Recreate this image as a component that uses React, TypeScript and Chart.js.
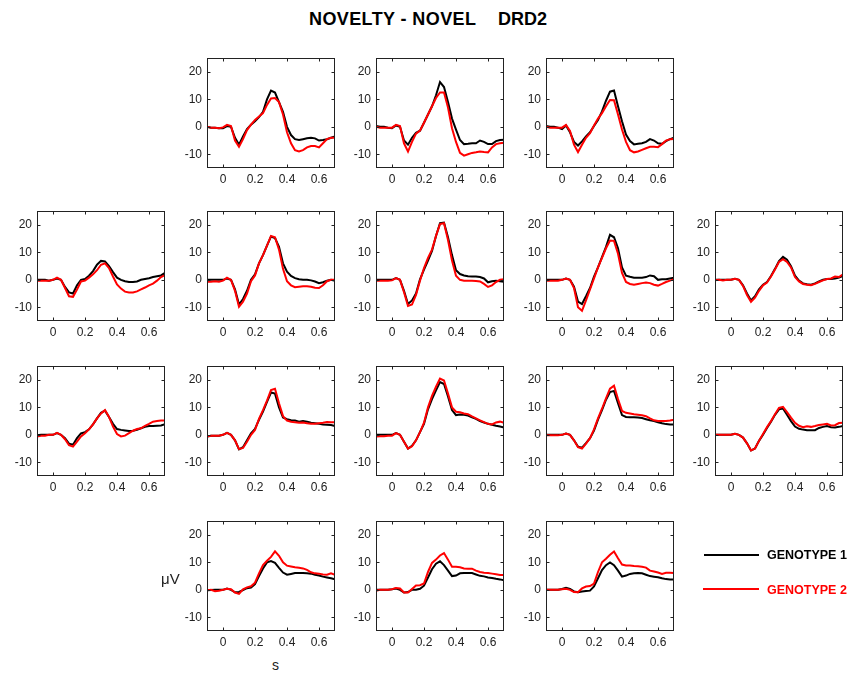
import React, { useEffect, useRef } from 'react';
import { Chart, registerables } from 'chart.js';

Chart.register(...registerables);

// ---------- data ----------
const TIME = [-0.1, -0.075, -0.05, -0.025, 0, 0.025, 0.05, 0.075, 0.1, 0.125, 0.15, 0.175, 0.2, 0.225, 0.25, 0.275, 0.3, 0.325, 0.35, 0.375, 0.4, 0.425, 0.45, 0.475, 0.5, 0.525, 0.55, 0.575, 0.6, 0.625, 0.65, 0.675, 0.7];
const X_TICKS = [0, 0.2, 0.4, 0.6];
const Y_TICKS = [-10, 0, 10, 20];
const SERIES_NAMES = ['GENOTYPE 1', 'GENOTYPE 2'];
const TITLE_LEFT = 'NOVELTY - NOVEL';
const TITLE_RIGHT = 'DRD2';
const Y_LABEL = 'μV';
const X_LABEL = 's';

// row 0
const R0C1_G1 = [0, -0.3, -0.3, -0.5, -0.5, 0.3, 0, -4, -6.5, -3.5, -0.8, 0.8, 2, 3.5, 5.5, 10, 13.2, 12.5, 9, 5.5, 0, -3, -4.5, -4.8, -4.5, -4.2, -4, -4.2, -5, -4.8, -4.5, -4, -3.5];
const R0C1_G2 = [0, -0.3, -0.3, -0.5, -0.2, 0.7, 0.3, -5, -7.3, -4.5, -1.2, 0.8, 2.5, 3.8, 5, 8, 10.3, 10.5, 9, 4.5, -2, -6, -8.5, -9, -8.5, -7.5, -7, -7, -7.5, -6, -4.5, -4, -4];
const R0C2_G1 = [0.3, 0, 0, -0.3, -0.5, 0.5, 0, -5, -6.5, -4, -2.2, -1.4, 1.5, 4.5, 7.5, 11.5, 16.3, 14.5, 9, 3, -1, -4.8, -6.3, -6.2, -6, -6, -5, -5.5, -6.3, -6.3, -5.2, -4.8, -4.7];
const R0C2_G2 = [0, -0.3, -0.3, -0.3, -0.3, 0.7, 0.3, -6, -9, -5.5, -2.5, -1.4, 1.5, 4.5, 7.5, 10.5, 12.5, 12.5, 7, -0.5, -5.5, -9.5, -10.5, -10, -9.5, -9.3, -9, -9.2, -9.3, -7.5, -6.3, -6, -5.8];
const R0C3_G1 = [0.3, 0, 0, -0.3, -0.8, 0.5, -2, -5.5, -6.8, -5.3, -3.5, -2, 0.3, 2.5, 5.6, 9.5, 12.8, 13.2, 7.5, 2, -2.8, -5.2, -6.4, -6.2, -6, -5.5, -4.5, -5, -6, -6.2, -5.2, -4.5, -4];
const R0C3_G2 = [0, -0.3, -0.3, -0.3, -0.3, 0.7, -1.5, -6.5, -9.2, -6.5, -4, -2.3, 0.5, 3, 5, 7.5, 9.8, 9.7, 4.5, -1, -5.5, -8.5, -9.3, -9, -8.4, -7.8, -7.3, -7.3, -7.4, -6.3, -5, -4.5, -4.4];
// row 1
const R1C0_G1 = [0, 0, 0, -0.3, 0, 0.5, 0, -2.6, -4.6, -5, -2, 0, 0.3, 1.5, 3.2, 5.5, 6.9, 6.7, 5, 2.8, 0.8, 0, -0.5, -0.8, -0.8, -0.6, 0, 0.3, 0.6, 1, 1.3, 1.6, 2.5];
const R1C0_G2 = [-0.3, -0.3, -0.3, -0.3, 0, 0.8, 0, -3, -6, -6.2, -3.5, -0.6, -0.3, 0.8, 2, 3.5, 5.5, 6, 4.3, 1.2, -1.7, -3.2, -4.3, -4.6, -4.6, -4.2, -3.5, -2.8, -2, -1.4, -0.3, 1, 1.7];
const R1C1_G1 = [0, 0, 0, 0, 0, 0.5, 0, -3.5, -9, -7, -4, 0, 2, 6, 9, 12.5, 15.8, 15.2, 12, 6, 3, 1.4, 0.6, 0.2, 0, 0, -0.2, -0.6, -1.2, -0.9, -0.3, 0, -0.3];
const R1C1_G2 = [-0.7, -0.7, -0.5, -0.7, -0.3, 0.8, 0, -4, -9.8, -8, -5, -0.5, 1.6, 6, 9, 12.5, 16, 15.5, 11, 4, -0.5, -2, -2.7, -2.5, -2.3, -2.3, -2.5, -2.9, -3, -2, -0.5, 0, 0];
const R1C2_G1 = [0, 0, 0, 0, 0, 0.6, 0, -4, -8.8, -7.5, -5, 0.2, 3.7, 7, 10.5, 16, 20.6, 20.8, 15.5, 9, 3.5, 2.1, 1.6, 1.3, 1.2, 1.2, 1, 0.5, -0.9, -0.5, -0.3, -0.5, -0.7];
const R1C2_G2 = [-0.3, -0.3, -0.3, -0.3, -0.2, 0.6, 0, -4.5, -9.5, -9, -5.5, -0.3, 4.3, 8, 11, 16, 20.3, 20.6, 14.5, 7, 1.5, 0, -0.3, -0.3, -0.3, -0.4, -0.6, -1.5, -2.6, -2, -0.8, 0, 0.2];
const R1C3_G1 = [0, 0, 0, 0, 0, 0.5, 0, -2.5, -7.9, -8.8, -6, -3, 1.2, 4.5, 8.3, 12, 16.4, 15.5, 11.5, 4.5, 1.5, 1.1, 0.8, 0.8, 0.8, 1, 1.6, 1.3, 0, 0.2, 0.2, 0.5, 0.8];
const R1C3_G2 = [-0.3, -0.3, -0.3, -0.3, 0, 0.5, 0, -3, -10, -11.3, -7.5, -3.5, 0.5, 4.5, 8, 11.5, 14.3, 14.2, 9.5, 2.5, -0.8, -1.5, -1.8, -1.5, -1.2, -1, -1.2, -1.8, -2.1, -1.5, -0.8, -0.3, 0.2];
const R1C4_G1 = [0, 0, 0, 0, 0, 0.4, 0, -2, -5, -7.5, -6, -3.5, -1.8, -0.8, 1.4, 4, 6.8, 8.4, 7.3, 5, 1.5, -0.3, -1.3, -1.6, -1.8, -1.3, -0.6, 0, 0.3, 0.3, 0.5, 0.8, 1.4];
const R1C4_G2 = [-0.2, 0, -0.2, 0, 0, 0.4, 0, -2.2, -5.5, -8, -6.5, -4, -2, -1, 1.2, 3.8, 6.5, 7.5, 6.5, 4.5, 1, -0.6, -1.5, -1.8, -2, -1.5, -0.8, -0.2, 0.3, 0.5, 1.2, 1, 2];
// row 2
const R2C0_G1 = [-0.2, 0, 0, 0, 0, 0.6, 0, -1.2, -3.2, -3.6, -1.2, 0.5, 1, 2, 3.8, 6, 8, 8.8, 6.5, 4, 2.1, 1.8, 1.6, 1.4, 1.5, 1.8, 2.4, 2.9, 3.2, 3.2, 3.3, 3.4, 3.9];
const R2C0_G2 = [-0.6, -0.3, -0.3, 0, 0, 0.7, 0, -1.6, -3.8, -4.3, -2.5, -0.6, 0.6, 2, 3.8, 6, 7.8, 9, 6.5, 3, 0.3, -0.6, -0.3, 0.6, 1.5, 2.1, 2.4, 3.3, 4, 4.8, 5, 5.2, 5.2];
const R2C1_G1 = [-0.6, -0.3, -0.3, -0.3, 0, 0.7, 0, -2, -5.3, -4.5, -2, 0.5, 2.2, 5.5, 8.5, 12, 15.4, 15, 10, 6.3, 5.7, 5.3, 5.2, 4.8, 5, 4.8, 4.4, 4.2, 4, 3.8, 3.7, 3.6, 3.2];
const R2C1_G2 = [-0.6, -0.3, -0.3, -0.3, 0, 0.7, 0, -2, -5.2, -4.8, -2.5, 0, 1.8, 5.8, 9, 12.5, 16.3, 16.8, 11.5, 6.8, 5.2, 4.8, 4.6, 4.4, 4.5, 4.2, 4, 4, 4.2, 4.4, 4.7, 4.6, 4.6];
const R2C2_G1 = [0, 0, 0, 0, 0, 0.6, 0, -2.5, -5, -4, -2, 1, 4, 9.3, 13, 16.2, 19.2, 18.5, 14, 9, 7.2, 7.4, 7.3, 7, 6.4, 5.8, 5, 4.5, 4, 3.7, 3.3, 3, 2.7];
const R2C2_G2 = [-0.6, -0.5, -0.5, -0.3, -0.3, 0.6, 0, -2.5, -5, -4.2, -2, 1, 4.4, 10, 14.2, 17.5, 20.5, 19.8, 15, 10, 8.4, 8.2, 7.8, 7.5, 6.7, 6, 5.3, 4.6, 4, 3.8, 4.5, 4.8, 4.4];
const R2C3_G1 = [0, 0, 0, 0, 0, 0.5, 0, -2, -4.3, -4.7, -3, -1.2, 1.5, 5.5, 9, 12.8, 15.6, 16, 11.5, 7.2, 6.5, 6.4, 6.4, 6.3, 6.1, 5.7, 5.3, 5, 4.6, 4.2, 3.9, 3.8, 3.8];
const R2C3_G2 = [-0.2, -0.2, -0.2, -0.2, 0, 0.5, 0, -2, -4.5, -5, -3.2, -1.2, 2, 6, 9.5, 13.3, 16.8, 17.9, 13, 8.7, 8, 7.8, 7.5, 7.3, 7.1, 6.8, 6, 5.3, 5, 5, 5, 5.2, 5.5];
const R2C4_G1 = [0, 0, 0, 0, 0, 0.4, 0, -1, -3.1, -5.7, -5, -2.2, 0, 2.5, 4.8, 7.3, 9.3, 9.6, 7.3, 5, 3, 2.2, 1.9, 1.7, 1.7, 1.7, 2.5, 2.9, 3.2, 2.8, 2.7, 2.9, 3.2];
const R2C4_G2 = [0, 0, 0, 0, 0, 0.4, 0, -1, -3.1, -5.7, -5, -2.2, 0.3, 2.8, 5, 7.5, 9.8, 10.2, 8.3, 6.3, 4.4, 3.3, 2.8, 3.1, 2.9, 3.2, 3.6, 3.8, 4, 3.4, 3.5, 4.3, 4.4];
// row 3
const R3C1_G1 = [-0.2, -0.1, 0, 0, 0, 0.5, 0, -0.9, -0.8, -0.1, 0.6, 0.8, 2.1, 5, 7.8, 10, 10.5, 9.8, 8, 6.3, 5.5, 5.8, 6.1, 6.1, 6.1, 6, 5.9, 5.5, 5.2, 4.8, 4.5, 4.2, 3.8];
const R3C1_G2 = [-0.2, 0, -0.5, -0.3, 0, 0.4, 0.2, -1, -1.5, 0.2, 0.9, 1.3, 2.6, 6, 9, 10.6, 12, 14, 12.4, 10, 8.8, 8.5, 8.2, 8, 7.8, 7.3, 6.4, 6, 5.9, 5.6, 5.5, 6, 5.5];
const R3C2_G1 = [0, 0, 0, 0, 0.2, 0.5, 0, -1, -0.8, 0, 0, 0.4, 1.5, 4.5, 7.5, 9.5, 10.4, 9, 7, 5, 5.2, 6, 6.1, 6.1, 6.1, 5.6, 5.1, 4.9, 4.5, 4.3, 4, 3.8, 3.5];
const R3C2_G2 = [-0.3, 0, 0, 0, 0.2, 0.7, 0.5, -1, -1, 0.3, 1.6, 1.7, 2.3, 6.5, 9.8, 11, 12.5, 13.4, 11, 8.4, 8.4, 8.2, 7.8, 7.7, 7.7, 7, 6.5, 6.2, 6.1, 5.9, 5.7, 5.4, 5.4];
const R3C3_G1 = [0, 0, 0, 0, 0.3, 0.7, 0.3, -0.6, -0.9, -0.6, -0.4, -0.3, 1.2, 4.2, 7.2, 9, 10, 9, 7, 4.8, 5.2, 5.8, 6, 6.1, 6, 5.5, 5, 4.8, 4.6, 4.2, 3.9, 3.8, 3.8];
const R3C3_G2 = [0, 0, 0, 0, 0.2, 0.4, 0, -0.8, -0.9, 0.5, 1.2, 1.4, 2.3, 6.5, 10, 11.3, 12.8, 14, 11.5, 9.2, 8.9, 8.9, 8.7, 8.6, 8.4, 8.1, 7, 6.7, 6.3, 5.8, 6.2, 6.2, 6.1];

// ---------- layout ----------
const PANELS = [
  { row: 0, col: 1, g1: R0C1_G1, g2: R0C1_G2 },
  { row: 0, col: 2, g1: R0C2_G1, g2: R0C2_G2 },
  { row: 0, col: 3, g1: R0C3_G1, g2: R0C3_G2 },
  { row: 1, col: 0, g1: R1C0_G1, g2: R1C0_G2 },
  { row: 1, col: 1, g1: R1C1_G1, g2: R1C1_G2 },
  { row: 1, col: 2, g1: R1C2_G1, g2: R1C2_G2 },
  { row: 1, col: 3, g1: R1C3_G1, g2: R1C3_G2 },
  { row: 1, col: 4, g1: R1C4_G1, g2: R1C4_G2 },
  { row: 2, col: 0, g1: R2C0_G1, g2: R2C0_G2 },
  { row: 2, col: 1, g1: R2C1_G1, g2: R2C1_G2 },
  { row: 2, col: 2, g1: R2C2_G1, g2: R2C2_G2 },
  { row: 2, col: 3, g1: R2C3_G1, g2: R2C3_G2 },
  { row: 2, col: 4, g1: R2C4_G1, g2: R2C4_G2 },
  { row: 3, col: 1, g1: R3C1_G1, g2: R3C1_G2 },
  { row: 3, col: 2, g1: R3C2_G1, g2: R3C2_G2 },
  { row: 3, col: 3, g1: R3C3_G1, g2: R3C3_G2 },
];

const COL_LEFT = [37, 207, 376, 546, 715];
const ROW_TOP = [52, 205, 360, 515];
const BOX_W = 128;
const BOX_H = 116;
const AXIS_W = 36;
const AXIS_H = 24;
const PAD = 6;
const FONT = '"Liberation Sans", Arial, Helvetica, sans-serif';
const INK = '#222222';
const COLORS = ['#000000', '#ff0000'];

const boxPlugin = {
  id: 'matlabBox',
  afterDraw(chart: any) {
    const { ctx, chartArea: a, scales } = chart;
    ctx.save();
    ctx.strokeStyle = INK;
    ctx.lineWidth = 1;
    const l = Math.round(a.left) + 0.5;
    const t = Math.round(a.top) + 0.5;
    const r = Math.round(a.right) - 0.5;
    const b = Math.round(a.bottom) - 0.5;
    ctx.strokeRect(l, t, r - l, b - t);
    const len = 3;
    ctx.beginPath();
    for (const v of Y_TICKS) {
      const y = Math.round(scales.y.getPixelForValue(v)) + 0.5;
      ctx.moveTo(l, y); ctx.lineTo(l + len, y);
      ctx.moveTo(r, y); ctx.lineTo(r - len, y);
    }
    for (const v of X_TICKS) {
      const x = Math.round(scales.x.getPixelForValue(v)) + 0.5;
      ctx.moveTo(x, b); ctx.lineTo(x, b - len);
      ctx.moveTo(x, t); ctx.lineTo(x, t + len);
    }
    ctx.stroke();
    ctx.restore();
  },
};

function Panel({ g1, g2, left, top }: { g1: number[]; g2: number[]; left: number; top: number }) {
  const ref = useRef<HTMLCanvasElement | null>(null);
  const w = AXIS_W + BOX_W + PAD;
  const h = PAD + BOX_H + AXIS_H;
  useEffect(() => {
    if (!ref.current) return;
    const mk = (vals: number[]) => TIME.map((t, i) => ({ x: t, y: vals[i] }));
    const chart = new Chart(ref.current, {
      type: 'line',
      data: {
        datasets: [
          { label: SERIES_NAMES[0], data: mk(g1), borderColor: COLORS[0], backgroundColor: COLORS[0], borderWidth: 2, pointRadius: 0, tension: 0, order: 2 },
          { label: SERIES_NAMES[1], data: mk(g2), borderColor: COLORS[1], backgroundColor: COLORS[1], borderWidth: 2, pointRadius: 0, tension: 0, order: 1 },
        ],
      },
      options: {
        animation: false,
        responsive: false,
        events: [],
        layout: { padding: { top: PAD, right: PAD, left: 0, bottom: 0 } },
        plugins: { legend: { display: false }, tooltip: { enabled: false }, title: { display: false } },
        scales: {
          x: {
            type: 'linear',
            min: -0.1,
            max: 0.7,
            grid: { display: false, drawTicks: false },
            border: { display: false },
            afterBuildTicks: (s: any) => { s.ticks = X_TICKS.map((v) => ({ value: v })); },
            afterFit: (s: any) => { s.height = AXIS_H; },
            ticks: {
              padding: 4,
              color: INK,
              autoSkip: false,
              maxRotation: 0,
              font: { family: FONT, size: 12 },
              callback: (v: any) => (Number(v) === 0 ? '0' : Number(v).toFixed(1)),
            },
          },
          y: {
            type: 'linear',
            min: -15,
            max: 25,
            grid: { display: false, drawTicks: false },
            border: { display: false },
            afterBuildTicks: (s: any) => { s.ticks = Y_TICKS.map((v) => ({ value: v })); },
            afterFit: (s: any) => { s.width = AXIS_W; },
            ticks: {
              padding: 5,
              color: INK,
              autoSkip: false,
              font: { family: FONT, size: 12 },
              callback: (v: any) => String(v),
            },
          },
        },
      },
      plugins: [boxPlugin],
    } as any);
    return () => chart.destroy();
  }, [g1, g2]);
  return (
    <canvas
      ref={ref}
      width={w}
      height={h}
      style={{ position: 'absolute', left: left - AXIS_W, top: top - PAD, width: w, height: h }}
    />
  );
}

export default function App() {
  const text = (extra: React.CSSProperties): React.CSSProperties => ({
    position: 'absolute',
    fontFamily: FONT,
    lineHeight: 1,
    whiteSpace: 'pre',
    margin: 0,
    ...extra,
  });
  return (
    <div style={{ position: 'absolute', left: 0, top: 0, width: 850, height: 673, background: '#ffffff', overflow: 'hidden' }}>
      <div style={text({ left: 309, top: 10, fontSize: 18, fontWeight: 'bold', color: '#000', letterSpacing: 0.4 })}>{TITLE_LEFT}</div>
      <div style={text({ left: 498, top: 10, fontSize: 18, fontWeight: 'bold', color: '#000' })}>{TITLE_RIGHT}</div>
      {PANELS.map((p, i) => (
        <Panel key={i} g1={p.g1} g2={p.g2} left={COL_LEFT[p.col]} top={ROW_TOP[p.row]} />
      ))}
      <div style={text({ left: 161, top: 571, fontSize: 15, color: INK })}>{Y_LABEL}</div>
      <div style={text({ left: 272, top: 658, fontSize: 14, color: INK })}>{X_LABEL}</div>
      <div style={{ position: 'absolute', left: 704, top: 554, width: 55, height: 2, background: COLORS[0] }} />
      <div style={text({ left: 767, top: 549, fontSize: 12.5, fontWeight: 'bold', color: COLORS[0] })}>{SERIES_NAMES[0]}</div>
      <div style={{ position: 'absolute', left: 703, top: 588, width: 56, height: 2, background: COLORS[1] }} />
      <div style={text({ left: 767, top: 583.5, fontSize: 12.5, fontWeight: 'bold', color: COLORS[1] })}>{SERIES_NAMES[1]}</div>
    </div>
  );
}
